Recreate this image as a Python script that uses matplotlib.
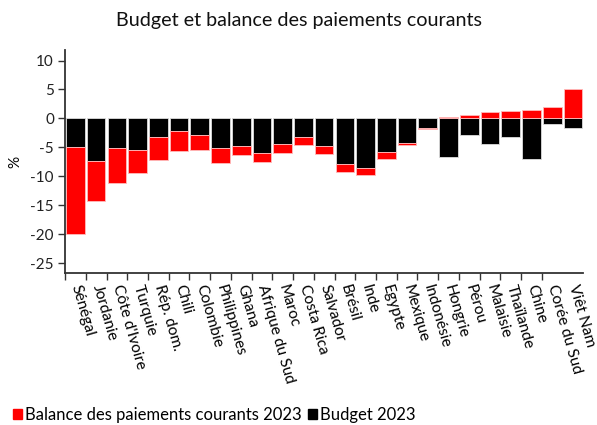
import matplotlib
matplotlib.use("Agg")
import matplotlib.pyplot as plt
from matplotlib.patches import Patch
import numpy as np

plt.rcParams['font.family'] = ['Lato', 'DejaVu Sans']

countries = ["Sénégal", "Jordanie", "Côte d'Ivoire", "Turquie", "Rép. dom.", "Chili",
             "Colombie", "Philippines", "Ghana", "Afrique du Sud", "Maroc", "Costa Rica",
             "Salvador", "Brésil", "Inde", "Egypte", "Mexique", "Indonésie", "Hongrie",
             "Pérou", "Malaisie", "Thaïlande", "Chine", "Corée du Sud", "Viêt Nam"]
budget = [-5.0, -7.4, -5.2, -5.5, -3.3, -2.2, -2.8, -5.2, -4.7, -6.0, -4.5, -3.2,
          -4.8, -7.9, -8.6, -5.8, -4.3, -1.7, -6.7, -2.8, -4.4, -3.2, -7.1, -1.0, -1.6]
current_account = [-15.0, -6.9, -6.0, -4.0, -3.9, -3.5, -2.6, -2.5, -1.6, -1.55, -1.45,
                   -1.45, -1.3, -1.3, -1.2, -1.15, -0.35, -0.17, 0.23, 0.57, 1.15,
                   1.26, 1.44, 2.0, 5.06]
series_names = ["Balance des paiements courants 2023", "Budget 2023"]
red = "#ff0000"
black = "#000000"

fig = plt.figure(figsize=(5.97, 4.25), dpi=100)
ax = fig.add_axes([0.109, 0.358, 0.868, 0.524])

x = np.arange(len(countries))
b = np.array(budget)
ca = np.array(current_account)
bottom_ca = np.where(ca < 0, np.minimum(b, 0), 0)

ax.bar(x, b, width=0.9, color=black, edgecolor="#dddddd", linewidth=0.6, zorder=2)
ax.bar(x, ca, bottom=bottom_ca, width=0.9, color=red, edgecolor="#ffbbbb", linewidth=0.6, zorder=2)

ax.set_xlim(-0.5, len(countries) - 0.5)
ax.set_ylim(-26.7, 11.8)
ax.set_yticks([10, 5, 0, -5, -10, -15, -20, -25])
ax.set_yticklabels(["10", "5", "0", "-5", "-10", "-15", "-20", "-25"], fontsize=11)
ax.set_ylabel("%", fontsize=11, labelpad=6)

ax.set_xticks(x)
ax.set_xticklabels(countries, rotation=-74, ha="left", va="center",
                   rotation_mode="anchor", fontsize=11.2)
ax.tick_params(axis="x", length=0, pad=9)
ax.set_xticks(x[:-1] - 0.5, minor=True)
ax.tick_params(axis="x", which="minor", length=5, width=1, color="#333333")
ax.tick_params(axis="y", length=5, width=1, color="#333333", pad=3, labelcolor="#222222")

for s in ["top", "right"]:
    ax.spines[s].set_visible(False)
for s in ["left", "bottom"]:
    ax.spines[s].set_color("#333333")
    ax.spines[s].set_linewidth(1.3)

fig.suptitle("Budget et balance des paiements courants", fontsize=14.2, y=0.972, color="#111111")

handles = [Patch(color=red, label=series_names[0]), Patch(color=black, label=series_names[1])]
fig.legend(handles=handles, loc="lower left", bbox_to_anchor=(0.005, -0.018), ncol=2,
           frameon=False, fontsize=12, handlelength=0.55, handleheight=0.55,
           handletextpad=0.15, columnspacing=0.4, borderaxespad=0.2)

fig.savefig("out.png", dpi=100)
